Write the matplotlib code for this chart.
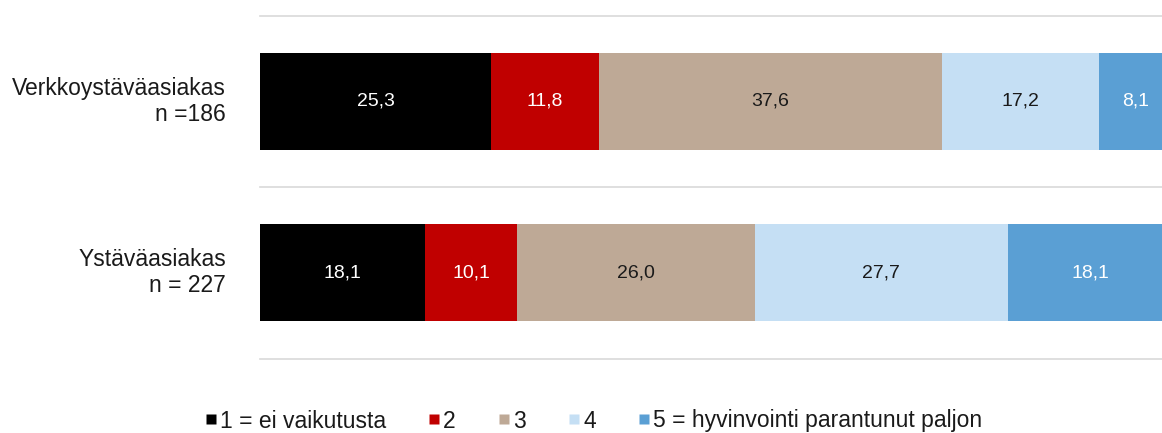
import matplotlib
matplotlib.use("Agg")
import matplotlib.pyplot as plt
import matplotlib.transforms as mtransforms
from matplotlib.lines import Line2D

plt.rcParams['font.family'] = ['Liberation Sans', 'DejaVu Sans']

groups = ["Verkkoystäväasiakas\nn =186", "Ystäväasiakas\nn = 227"]
categories = ["1 = ei vaikutusta", "2", "3", "4", "5 = hyvinvointi parantunut paljon"]
values = [
    [25.3, 18.1],
    [11.8, 10.1],
    [37.6, 26.0],
    [17.2, 27.7],
    [8.1, 18.1],
]
colors = ["#000000", "#C00000", "#BEA996", "#C5DFF4", "#5A9FD4"]
text_colors = ["white", "white", "#1a1a1a", "#1a1a1a", "white"]

W, H = 1162, 433
fig = plt.figure(figsize=(W / 100, H / 100), dpi=100)
# axes runs a little past the right edge of the picture, like the original
ax = fig.add_axes([260 / W, 1 - 358.5 / H, 913 / W, 343 / H])

left = [0.0, 0.0]
for vals, col, tcol, name in zip(values, colors, text_colors, categories):
    bars = ax.barh(range(len(groups)), vals, left=left, height=0.565,
                   color=col, edgecolor="none", label=name)
    for i, v in enumerate(vals):
        ax.text(left[i] + v / 2, i, f"{v:.1f}".replace(".", ","),
                ha="center", va="center", color=tcol, fontsize=14)
    left = [l + v for l, v in zip(left, vals)]

ax.set_xlim(0, 100)
ax.set_ylim(1.5, -0.5)
for y in [-0.5, 0.5, 1.5]:
    ax.axhline(y, color="#D9D9D9", lw=1.2, clip_on=False)

ax.set_yticks(range(len(groups)))
ax.set_yticklabels(groups, fontsize=16.5, color="#1a1a1a", linespacing=1.17)
ax.tick_params(axis="y", length=0, pad=24.5)
up = mtransforms.ScaledTranslation(0, 4 / 100, fig.dpi_scale_trans)
for lab in ax.get_yticklabels():
    lab.set_transform(lab.get_transform() + up)
ax.set_xticks([])
for s in ax.spines.values():
    s.set_visible(False)

# square legend keys
handles = [Line2D([], [], ls="none", marker="s", markersize=6.5,
                  markerfacecolor=c, markeredgecolor="none") for c in colors]
fig.legend(handles, categories, loc="center", bbox_to_anchor=(594 / W, 1 - 421 / H),
           ncol=5, frameon=False, fontsize=16.5, handlelength=0.4,
           handletextpad=0.2, columnspacing=1.9, labelcolor="#1a1a1a")

fig.savefig("out.png", dpi=100)
